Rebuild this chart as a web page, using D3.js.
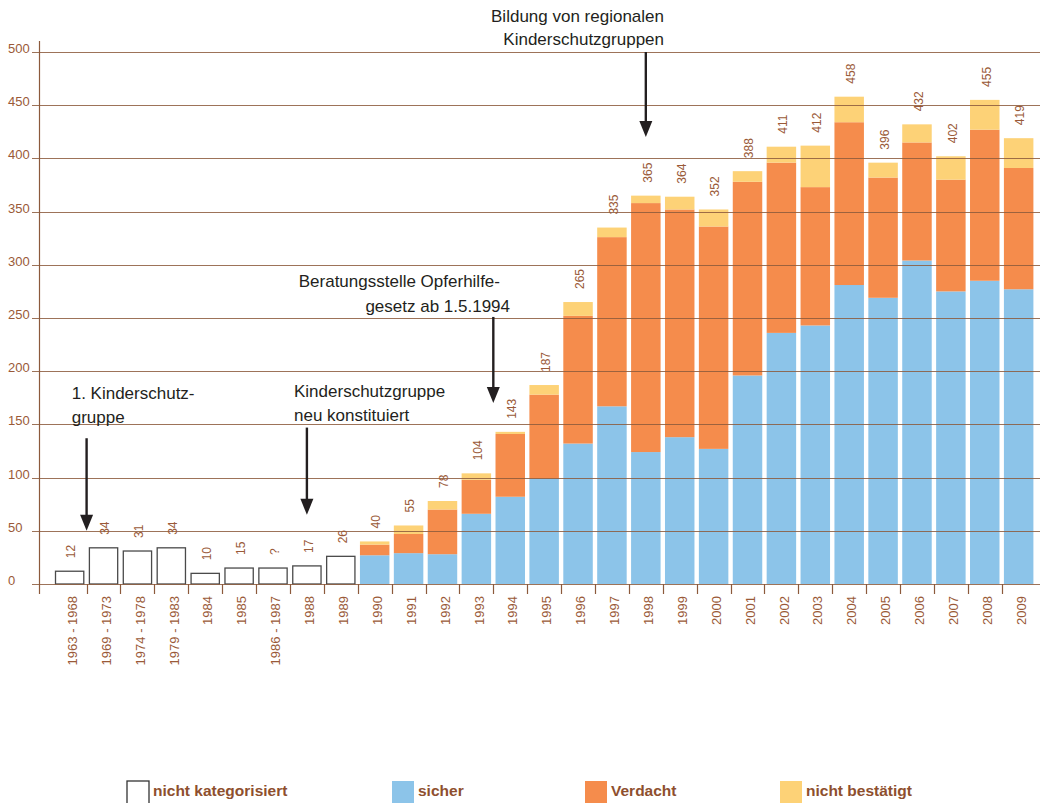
<!DOCTYPE html>
<html>
<head>
<meta charset="utf-8">
<script src="https://cdn.jsdelivr.net/npm/d3@7"></script>
<style>
  html, body { margin: 0; padding: 0; background: #fff; overflow: hidden; }
  svg { display: block; font-family: "Liberation Sans", Arial, Helvetica, sans-serif; }
</style>
</head>
<body>
<svg id="chart" width="1044" height="803"></svg>
<script>
// ---------------- data ----------------
const categories = ["1963 - 1968","1969 - 1973","1974 - 1978","1979 - 1983","1984","1985","1986 - 1987","1988","1989",
  "1990","1991","1992","1993","1994","1995","1996","1997","1998","1999",
  "2000","2001","2002","2003","2004","2005","2006","2007","2008","2009"];
const nichtKategorisiert = [12,34,31,34,10,15,15,17,26, 0,0,0,0,0,0,0,0,0,0, 0,0,0,0,0,0,0,0,0,0];
const sicher   = [0,0,0,0,0,0,0,0,0, 27,29,28,66,82,99,132,167,124,138, 127,196,236,243,281,269,304,275,285,277];
const verdacht = [0,0,0,0,0,0,0,0,0, 10,18,42,32,59,79,120,159,234,214, 209,182,160,130,153,113,111,105,142,114];
const nichtBestaetigt = [0,0,0,0,0,0,0,0,0, 3,8,8,6,2,9,13,9,7,12, 16,10,15,39,24,14,17,22,28,28];
const totalLabels = ["12","34","31","34","10","15","?","17","26",
  "40","55","78","104","143","187","265","335","365","364",
  "352","388","411","412","458","396","432","402","455","419"];
const yTicks = [0,50,100,150,200,250,300,350,400,450,500];
const seriesNames = ["nicht kategorisiert","sicher","Verdacht","nicht bestätigt"];
// annotations: text lines, arrow at category (with band offset), arrow from/to values
const annotations = [
  { lines: ["1. Kinderschutz-","gruppe"], cat: "1963 - 1968", at: 1.0, from: 137, to: 50, anchor: "start" },
  { lines: ["Kinderschutzgruppe","neu konstituiert"], cat: "1988", at: 0.5, from: 147, to: 65, anchor: "start" },
  { lines: ["Beratungsstelle Opferhilfe-","gesetz ab 1.5.1994"], cat: "1994", at: 0.0, from: 251, to: 170, anchor: "end" },
  { lines: ["Bildung von regionalen","Kinderschutzgruppen"], cat: "1998", at: 0.5, from: 500, to: 420, anchor: "end" }
];

// ---------------- style ----------------
const colors = { blank: "#ffffff", sicher: "#8cc4e9", verdacht: "#f58c4c", nicht: "#fdd277" };
const brown = "#8c5a3c";
const textBrown = "#9a5a38";
const dark = "#231f20";

const svg = d3.select("#chart");
const W = 1044, H = 803;
svg.append("rect").attr("width", W).attr("height", H).attr("fill", "#fff");

const x = d3.scaleBand().domain(categories).range([52.7, 1035.6]).paddingInner(0.13).paddingOuter(0.065);
const y = d3.scaleLinear().domain([0, 500]).range([584, 52]);

const step = x.step();
const bandLeft = c => x(c) - (step - x.bandwidth()) / 2;

// stacked data
const rows = categories.map((c, i) => ({ cat: c, blank: nichtKategorisiert[i], sicher: sicher[i], verdacht: verdacht[i], nicht: nichtBestaetigt[i], label: totalLabels[i] }));
const stack = d3.stack().keys(["sicher", "verdacht", "nicht"])(rows);

// uncategorized bars
svg.append("g").selectAll("rect").data(rows.filter(d => d.blank > 0)).join("rect")
  .attr("x", d => x(d.cat) + 0.6)
  .attr("y", d => y(d.blank))
  .attr("width", x.bandwidth() - 1.2)
  .attr("height", d => y(0) - y(d.blank))
  .attr("fill", colors.blank)
  .attr("stroke", "#4a4a4a")
  .attr("stroke-width", 1.3);

// stacked bars
const colorByKey = { sicher: colors.sicher, verdacht: colors.verdacht, nicht: colors.nicht };
svg.append("g").selectAll("g").data(stack).join("g")
  .attr("fill", s => colorByKey[s.key])
  .selectAll("rect").data(s => s.filter(d => d[1] > d[0])).join("rect")
  .attr("x", d => x(d.data.cat))
  .attr("y", d => y(d[1]))
  .attr("width", x.bandwidth())
  .attr("height", d => y(d[0]) - y(d[1]));

// gridlines (drawn over bars)
svg.append("g").selectAll("line").data(yTicks).join("line")
  .attr("x1", 32).attr("x2", 1040)
  .attr("y1", d => Math.round(y(d)) + 0.5).attr("y2", d => Math.round(y(d)) + 0.5)
  .attr("stroke", brown).attr("stroke-opacity", 0.85).attr("stroke-width", 1);

// y axis line
svg.append("line").attr("x1", 39.5).attr("x2", 39.5).attr("y1", 41).attr("y2", 594)
  .attr("stroke", brown).attr("stroke-width", 1.2);

// y tick labels
svg.append("g").selectAll("text").data(yTicks).join("text")
  .attr("x", 8).attr("y", d => y(d) + 1)
  .attr("font-size", 13).attr("fill", textBrown)
  .text(d => d);

// x ticks between bands
svg.append("g").selectAll("line").data(categories.slice(1)).join("line")
  .attr("x1", d => Math.round(bandLeft(d)) + 0.5).attr("x2", d => Math.round(bandLeft(d)) + 0.5)
  .attr("y1", 584).attr("y2", 594)
  .attr("stroke", brown).attr("stroke-width", 1.2);

// x tick labels
svg.append("g").selectAll("text").data(categories).join("text")
  .attr("transform", d => `translate(${x(d) + x.bandwidth() / 2 + 7.2},596) rotate(-90)`)
  .attr("text-anchor", "end")
  .attr("font-size", 13).attr("fill", textBrown)
  .text(d => d);

// value labels
svg.append("g").selectAll("text").data(rows).join("text")
  .attr("transform", d => {
    const top = d.blank > 0 ? d.blank : d.sicher + d.verdacht + d.nicht;
    return `translate(${x(d.cat) + x.bandwidth() / 2 + 5.8},${y(top) - 13}) rotate(-90)`;
  })
  .attr("text-anchor", "start")
  .attr("font-size", 12).attr("fill", textBrown)
  .text(d => d.label);

// annotations
const ann = svg.append("g");
annotations.forEach((a, i) => {
  const ax = bandLeft(a.cat) + a.at * step;
  const textX = [ [71.7, 71.7], [294, 294], [500, 510], [664, 664] ][i];
  const base = [ [399, 423], [397, 421], [287, 312], [21.5, 45] ][i];
  a.lines.forEach((t, j) => {
    ann.append("text").attr("x", textX[j]).attr("y", base[j])
      .attr("text-anchor", a.anchor).attr("font-size", 17).attr("fill", dark).text(t);
  });
  const y0 = y(a.from), y1 = y(a.to);
  ann.append("line").attr("x1", ax).attr("x2", ax).attr("y1", y0).attr("y2", y1 - 10)
    .attr("stroke", dark).attr("stroke-width", 2.4);
  ann.append("path")
    .attr("d", `M${ax - 6.5},${y1 - 16} L${ax + 6.5},${y1 - 16} L${ax},${y1} Z`)
    .attr("fill", dark);
});

// legend
const legendX = [127, 392, 585, 780];
const legendFill = [colors.blank, colors.sicher, colors.verdacht, colors.nicht];
const lg = svg.append("g");
seriesNames.forEach((n, i) => {
  lg.append("rect").attr("x", legendX[i]).attr("y", 781).attr("width", 22).attr("height", 26)
    .attr("fill", legendFill[i])
    .attr("stroke", i === 0 ? "#333" : "none").attr("stroke-width", 1.3);
  lg.append("text").attr("x", legendX[i] + 26).attr("y", 796)
    .attr("font-size", 15.5).attr("font-weight", "bold").attr("fill", "#8e4f2e").text(n);
});
</script>
</body>
</html>
